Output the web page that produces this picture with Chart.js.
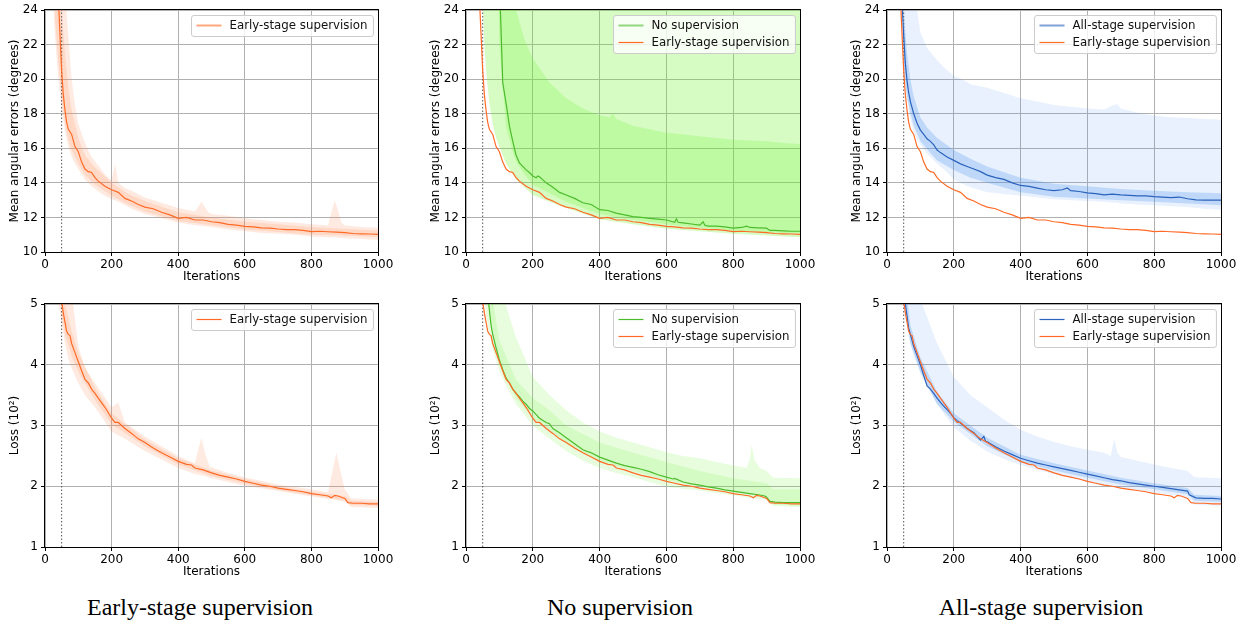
<!DOCTYPE html>
<html><head><meta charset="utf-8">
<script src="https://cdn.jsdelivr.net/npm/chart.js@4/dist/chart.umd.min.js"></script>
<style>
body{margin:0;background:#fff;width:1244px;height:626px;position:relative;overflow:hidden}
canvas{position:absolute}
.cap{position:absolute;top:595px;font-family:"Liberation Serif","Times New Roman",serif;font-size:24px;line-height:24px;color:#000;text-align:center;width:400px;white-space:nowrap}
</style></head><body>
<canvas id="c1" width="396" height="290" style="left:0px;top:0px"></canvas>
<canvas id="c2" width="397" height="290" style="left:421px;top:0px"></canvas>
<canvas id="c3" width="397" height="290" style="left:842px;top:0px"></canvas>
<canvas id="c4" width="396" height="295" style="left:0px;top:290px"></canvas>
<canvas id="c5" width="397" height="295" style="left:421px;top:290px"></canvas>
<canvas id="c6" width="397" height="295" style="left:842px;top:290px"></canvas>
<div class="cap" style="left:0px">Early-stage supervision</div>
<div class="cap" style="left:420px">No supervision</div>
<div class="cap" style="left:841px">All-stage supervision</div>
<script>
// ---------- labels / ticks ----------
const LABEL_ES = 'Early-stage supervision';
const LABEL_NS = 'No supervision';
const LABEL_AS = 'All-stage supervision';
const X_TICKS = [0, 200, 400, 600, 800, 1000];
const ANG_TICKS = [10, 12, 14, 16, 18, 20, 22, 24];
const LOSS_TICKS = [1, 2, 3, 4, 5];
const MARK_ITER = 50;

// ---------- mean angular error lines ----------
const ES_ANG_X = [40,45,50,55,60,65,70,80,90,100,110,120,130,140,150,160,180,200,220,240,260,280,300,325,350,375,400,425,450,475,500,525,550,575,600,625,650,675,700,725,750,775,800,825,850,875,900,925,950,975,1000];
const ES_ANG_Y = [24.8,22.6,20.5,19.1,18.2,17.5,17.1,16.8,16.1,15.8,15.2,14.8,14.65,14.6,14.3,14.1,13.8,13.6,13.45,13.1,12.95,12.75,12.6,12.5,12.3,12.15,11.95,12.0,11.85,11.85,11.75,11.7,11.6,11.55,11.48,11.45,11.4,11.38,11.33,11.3,11.3,11.25,11.18,11.2,11.17,11.15,11.12,11.07,11.05,11.04,11.02];

const NS_ANG_X = [100,103,110,120,130,140,150,160,170,180,190,200,210,215,220,240,260,280,300,325,350,375,400,425,450,475,500,525,550,575,600,625,630,635,650,675,700,710,715,725,750,775,800,825,840,850,875,900,910,925,950,975,1000];
const NS_ANG_Y = [25,24,19.8,18.6,17.3,16.4,15.6,15.15,14.95,14.75,14.6,14.4,14.3,14.4,14.35,14.0,13.75,13.45,13.3,13.1,12.85,12.75,12.45,12.4,12.25,12.15,12.05,12.0,11.95,11.9,11.85,11.72,11.92,11.72,11.68,11.62,11.55,11.75,11.55,11.5,11.5,11.45,11.38,11.42,11.5,11.42,11.4,11.38,11.25,11.25,11.22,11.2,11.2];

const AS_ANG_X = [45,50,55,60,65,70,80,90,100,110,120,130,140,150,160,180,200,220,240,260,280,300,325,350,375,400,425,450,475,500,525,540,550,575,600,625,650,675,700,725,750,775,800,825,850,875,900,925,950,975,1000];
const AS_ANG_Y = [24.5,22.5,20.9,19.9,19.2,18.7,18.0,17.45,17.05,16.8,16.55,16.4,16.2,15.9,15.75,15.5,15.3,15.1,14.95,14.8,14.65,14.45,14.3,14.2,14.0,13.85,13.8,13.7,13.6,13.55,13.6,13.7,13.55,13.5,13.42,13.38,13.3,13.35,13.3,13.28,13.25,13.25,13.2,13.18,13.15,13.18,13.08,13.02,13.0,13.0,13.0];

// ---------- loss lines ----------
const ES_LOSS_X = [40,45,50,55,60,65,70,75,80,90,100,110,120,130,140,150,160,180,200,210,220,240,260,280,300,325,350,375,400,425,440,450,475,500,525,550,575,600,625,650,675,700,725,750,775,800,825,850,860,870,880,900,910,925,950,975,1000];
const ES_LOSS_Y = [5.8,5.4,5.05,4.85,4.7,4.55,4.5,4.48,4.35,4.2,4.05,3.9,3.76,3.7,3.6,3.53,3.45,3.3,3.12,3.05,3.05,2.95,2.87,2.78,2.72,2.63,2.55,2.48,2.41,2.36,2.35,2.3,2.27,2.22,2.18,2.15,2.12,2.08,2.05,2.02,2.0,1.97,1.95,1.93,1.91,1.88,1.86,1.84,1.81,1.85,1.84,1.8,1.73,1.72,1.72,1.71,1.71];

const NS_LOSS_X = [60,68,75,80,90,100,110,120,130,140,150,160,170,180,190,200,210,220,240,250,260,280,300,325,350,375,400,425,450,475,500,525,550,575,600,620,625,650,675,700,725,750,775,800,825,850,875,895,900,910,925,950,975,1000];
const NS_LOSS_Y = [5.6,5.0,4.65,4.5,4.28,4.08,3.92,3.78,3.7,3.6,3.53,3.47,3.4,3.35,3.28,3.24,3.18,3.12,3.05,3.03,2.95,2.88,2.8,2.7,2.6,2.55,2.48,2.43,2.38,2.34,2.31,2.28,2.24,2.19,2.15,2.12,2.13,2.07,2.04,2.02,1.99,1.97,1.94,1.92,1.9,1.88,1.86,1.84,1.82,1.75,1.74,1.73,1.73,1.73];

const AS_LOSS_X = [45,55,60,65,70,80,90,100,110,120,130,140,150,160,170,180,190,200,210,220,240,260,280,290,295,300,325,350,375,400,425,450,475,500,525,550,575,600,625,650,675,700,725,750,775,800,825,850,875,900,905,925,950,975,1000];
const AS_LOSS_Y = [5.6,5.0,4.8,4.6,4.5,4.3,4.15,4.0,3.82,3.65,3.6,3.53,3.45,3.38,3.32,3.26,3.2,3.13,3.08,3.04,2.95,2.88,2.76,2.82,2.74,2.73,2.65,2.58,2.52,2.46,2.42,2.38,2.35,2.32,2.29,2.26,2.23,2.2,2.17,2.14,2.11,2.09,2.06,2.04,2.02,2.0,1.98,1.96,1.94,1.92,1.86,1.81,1.8,1.8,1.79];

// ---------- angular bands (outer = min/max, inner = spread) ----------
const ES_ANG_BX = [20,30,40,50,60,70,80,90,100,120,140,160,180,200,210,220,240,260,300,350,400,450,470,490,500,550,600,650,700,750,800,850,860,870,880,890,900,950,1000];
const ES_ANG_HI = [30,30,30,28,25,22.5,20,18.5,17.4,16.3,15.5,15.0,14.5,14.15,15.1,14.0,13.7,13.55,13.15,12.85,12.55,12.35,12.9,12.3,12.2,12.1,11.95,11.85,11.75,11.7,11.6,11.55,12.3,13.0,12.4,11.7,11.55,11.45,11.4];
const ES_ANG_LO = [26,22.5,20,18.3,17.0,16.1,15.5,15.1,14.8,14.2,13.8,13.5,13.25,13.05,13.0,12.9,12.7,12.5,12.2,11.95,11.7,11.55,11.5,11.47,11.45,11.3,11.2,11.1,11.05,11.0,10.9,10.85,10.85,10.85,10.83,10.82,10.8,10.75,10.7];
const ES_ANG_IX = [30,40,50,60,70,80,100,120,150,200,250,300,400,500,600,700,800,900,1000];
const ES_ANG_IHI = [28,27,24,21.5,19.5,18.2,16.6,15.6,14.9,14.0,13.35,12.95,12.3,12.0,11.75,11.6,11.45,11.35,11.25];
const ES_ANG_ILO = [23.5,21,18.9,17.5,16.5,15.9,15.1,14.45,13.9,13.25,12.75,12.35,11.8,11.55,11.3,11.15,11.0,10.95,10.85];

const NS_ANG_BX = [45,50,55,60,70,80,90,100,120,150,200,250,300,400,500,600,700,800,900,1000];
const NS_ANG_HI = [30,30,30,30,30,30,30,30,30,30,30,30,30,30,30,30,30,30,30,30];
const NS_ANG_LO = [30,24.5,22,20.5,18.6,17.4,16.6,16.1,15.1,14.2,13.3,12.9,12.55,11.9,11.6,11.35,11.2,11.05,10.95,10.85];
const NS_ANG_IX = [90,100,120,140,150,175,200,250,300,350,400,430,440,450,500,550,600,650,700,750,800,850,900,950,1000];
const NS_ANG_IHI = [30,30,28,25.5,24,22.3,21.2,19.8,18.9,18.3,17.9,17.8,18.05,17.7,17.3,17.1,16.9,16.8,16.7,16.6,16.5,16.45,16.4,16.3,16.25];
const NS_ANG_ILO = [30,22,17.2,15.8,15.2,14.5,13.9,13.4,12.9,12.55,12.2,12.1,12.05,12.0,11.85,11.75,11.6,11.5,11.42,11.35,11.25,11.2,11.15,11.1,11.08];

const AS_ANG_BX = [40,50,60,70,80,90,100,120,150,175,200,225,250,300,350,400,450,500,550,600,650,680,690,700,750,800,850,900,950,1000];
const AS_ANG_HI = [30,30,30,30,30,24,22.7,21.8,21.1,20.6,20.2,20.0,19.7,19.5,19.2,18.9,18.7,18.5,18.4,18.3,18.25,18.5,18.55,18.3,18.05,17.9,17.8,17.75,17.7,17.65];
const AS_ANG_LO = [24.5,20.5,18.8,17.7,17.0,16.5,16.2,15.7,15.1,14.7,14.2,13.95,13.75,13.45,13.35,13.25,13.15,13.05,13.0,12.95,12.9,12.85,12.85,12.8,12.75,12.7,12.65,12.6,12.5,12.45];
const AS_ANG_IX = [50,60,70,80,100,120,150,200,250,300,400,500,600,700,800,900,1000];
const AS_ANG_IHI = [24,21.5,20,19,17.8,17.2,16.6,15.9,15.4,14.95,14.3,13.95,13.8,13.65,13.55,13.45,13.4];
const AS_ANG_ILO = [20.8,19.0,18.0,17.3,16.4,15.95,15.3,14.75,14.3,14.0,13.45,13.2,13.1,13.0,12.9,12.8,12.7];

// ---------- loss bands ----------
const ES_LOSS_BX = [40,50,60,70,80,90,100,120,150,200,220,240,300,400,450,460,470,480,495,550,600,700,800,850,865,875,885,900,920,1000];
const ES_LOSS_HI = [7,6.5,6.0,5.6,5.2,4.75,4.3,3.95,3.7,3.3,3.38,3.05,2.82,2.5,2.38,2.6,2.8,2.55,2.32,2.22,2.15,2.03,1.95,1.9,2.3,2.55,2.3,1.95,1.8,1.78];
const ES_LOSS_LO = [5.0,4.7,4.35,4.1,3.95,3.82,3.7,3.5,3.3,2.9,2.84,2.78,2.58,2.3,2.2,2.19,2.18,2.17,2.14,2.07,2.01,1.92,1.83,1.79,1.78,1.77,1.76,1.74,1.66,1.64];
const ES_LOSS_IX = [50,60,80,100,150,200,300,400,500,600,700,800,900,920,1000];
const ES_LOSS_IHI = [5.4,5.0,4.55,4.2,3.62,3.2,2.77,2.46,2.26,2.12,2.0,1.91,1.84,1.76,1.74];
const ES_LOSS_ILO = [4.8,4.5,4.15,3.88,3.42,3.02,2.66,2.36,2.17,2.04,1.94,1.85,1.77,1.69,1.68];

const NS_LOSS_BX = [50,60,70,80,100,118,150,200,250,300,350,400,450,500,550,600,650,700,750,800,840,850,855,865,880,900,920,1000];
const NS_LOSS_HI = [7,7,7,7,5.8,5.0,4.45,3.8,3.5,3.25,3.05,2.9,2.8,2.72,2.64,2.56,2.5,2.46,2.4,2.34,2.3,2.45,2.68,2.42,2.3,2.25,2.14,2.13];
const NS_LOSS_LO = [5.5,4.8,4.5,4.25,3.9,3.68,3.35,3.0,2.78,2.58,2.42,2.3,2.22,2.15,2.07,1.99,1.96,1.93,1.89,1.85,1.82,1.81,1.81,1.8,1.79,1.78,1.68,1.66];
const NS_LOSS_IX = [70,100,150,200,250,300,400,500,600,700,800,900,920,1000];
const NS_LOSS_IHI = [5.4,4.4,3.75,3.45,3.25,3.0,2.72,2.55,2.4,2.25,2.13,2.05,1.95,1.95];
const NS_LOSS_ILO = [4.8,4.0,3.45,3.12,2.92,2.7,2.4,2.25,2.1,2.0,1.9,1.82,1.7,1.68];

const AS_LOSS_BX = [45,50,60,70,80,100,105,150,200,250,300,350,400,450,500,550,600,650,670,680,690,700,750,800,850,900,920,1000];
const AS_LOSS_HI = [7,7,7,7,7,5.3,5.0,4.35,3.8,3.5,3.3,3.1,2.93,2.82,2.73,2.66,2.6,2.55,2.5,2.78,2.55,2.48,2.42,2.36,2.3,2.25,2.15,2.13];
const AS_LOSS_LO = [5.3,5.0,4.6,4.35,4.15,3.85,3.8,3.35,2.97,2.75,2.57,2.45,2.35,2.27,2.2,2.14,2.08,2.03,2.01,2.0,1.99,1.98,1.94,1.9,1.86,1.82,1.7,1.68];
const AS_LOSS_IX = [50,70,100,150,200,300,400,500,600,700,800,900,920,1000];
const AS_LOSS_IHI = [5.6,4.65,4.12,3.55,3.2,2.8,2.52,2.38,2.26,2.14,2.05,1.97,1.86,1.84];
const AS_LOSS_ILO = [5.1,4.35,3.88,3.35,3.06,2.66,2.4,2.26,2.14,2.03,1.95,1.87,1.76,1.74];

// ---------- styles ----------
const ORANGE = '#ff6a26';
const GREEN = '#4cbc2c';
const BLUE = '#2a62bd';
const FILL = {
  orange:    ['rgba(255,140,90,0.18)', 'rgba(255,140,90,0.20)'],
  greenAng:  ['rgba(107,243,43,0.28)', 'rgba(107,243,43,0.22)'],
  greenLoss: ['rgba(107,243,43,0.16)', 'rgba(107,243,43,0.14)'],
  blue:      ['rgba(80,150,240,0.13)', 'rgba(80,150,240,0.27)']
};

Chart.defaults.font.family = "'DejaVu Sans', sans-serif";
Chart.defaults.font.size = 12;
Chart.defaults.color = '#000';

function pts(xs, ys) { return xs.map((x, i) => ({ x: x, y: ys[i] })); }
function lineDs(label, xs, ys, color, order) {
  return { label: label, data: pts(xs, ys), borderColor: color, borderWidth: 1.2, pointRadius: 0, fill: false, tension: 0, order: order };
}
function bandDs(xs, lo, hi, color, order) {
  return [
    { label: '', data: pts(xs, lo), borderColor: 'rgba(0,0,0,0)', borderWidth: 0, pointRadius: 0, fill: false, tension: 0, order: order },
    { label: '', data: pts(xs, hi), borderColor: 'rgba(0,0,0,0)', borderWidth: 0, pointRadius: 0, fill: '-1', backgroundColor: color, tension: 0, order: order }
  ];
}
function markDs(ticks) {
  return { label: '', data: [{ x: MARK_ITER, y: ticks[0] }, { x: MARK_ITER, y: ticks[ticks.length - 1] }],
    borderColor: '#555', borderWidth: 1, borderDash: [1.5, 2], pointRadius: 0, fill: false, order: 3 };
}

const mplDeco = {
  id: 'mplDeco',
  afterDatasetsDraw(chart, args, opts) {
    const ctx = chart.ctx, ca = chart.chartArea;
    ctx.save();
    ctx.strokeStyle = '#000'; ctx.lineWidth = 1;
    ctx.strokeRect(Math.round(ca.left) - 0.5, Math.round(ca.top) - 0.5, Math.round(ca.right - ca.left) + 1, Math.round(ca.bottom - ca.top) + 1);
    const items = opts.items || [];
    if (items.length) {
      ctx.font = "11.8px 'DejaVu Sans'";
      const tw = Math.max.apply(null, items.map(it => ctx.measureText(it.label).width));
      const w = 38 + tw + 6, h = 4 + 17 * items.length;
      const x = Math.round(ca.right - 5 - w) + 0.5, y = Math.round(ca.top + 5) + 0.5;
      const r = 2.5;
      ctx.beginPath();
      ctx.moveTo(x + r, y); ctx.lineTo(x + w - r, y); ctx.arcTo(x + w, y, x + w, y + r, r);
      ctx.lineTo(x + w, y + h - r); ctx.arcTo(x + w, y + h, x + w - r, y + h, r);
      ctx.lineTo(x + r, y + h); ctx.arcTo(x, y + h, x, y + h - r, r);
      ctx.lineTo(x, y + r); ctx.arcTo(x, y, x + r, y, r); ctx.closePath();
      ctx.fillStyle = 'rgba(255,255,255,0.8)'; ctx.fill();
      ctx.strokeStyle = '#cccccc'; ctx.lineWidth = 1; ctx.stroke();
      items.forEach((it, i) => {
        const cy = y + 10 + 17 * i;
        ctx.globalAlpha = it.alpha;
        ctx.strokeStyle = it.color; ctx.lineWidth = it.width;
        ctx.beginPath(); ctx.moveTo(x + 5, cy); ctx.lineTo(x + 30, cy); ctx.stroke();
        ctx.globalAlpha = 1;
        ctx.fillStyle = '#111'; ctx.textBaseline = 'middle'; ctx.textAlign = 'left';
        ctx.fillText(it.label, x + 38, cy + 0.5);
      });
    }
    ctx.restore();
  }
};

function makeChart(id, datasets, ticks, ytitle, padTop, legendItems) {
  return new Chart(document.getElementById(id), {
    type: 'line',
    data: { datasets: datasets },
    options: {
      responsive: false, animation: false, devicePixelRatio: 1,
      layout: { padding: { top: padTop, right: 18, left: 0, bottom: 0 } },
      plugins: { legend: { display: false }, tooltip: { enabled: false }, mplDeco: { items: legendItems } },
      scales: {
        x: {
          type: 'linear', min: X_TICKS[0], max: X_TICKS[X_TICKS.length - 1],
          ticks: { stepSize: X_TICKS[1] - X_TICKS[0], padding: 2, maxRotation: 0, autoSkip: false, callback: v => String(v) },
          grid: { color: '#b0b0b0', lineWidth: 1, tickLength: 4, tickColor: '#000' },
          border: { display: false },
          title: { display: true, text: 'Iterations', padding: { top: 0, bottom: 6 } },
          afterFit(s) { s.height = 38; s.paddingLeft = 0; s.paddingRight = 0; }
        },
        y: {
          type: 'linear', min: ticks[0], max: ticks[ticks.length - 1],
          ticks: { stepSize: ticks[1] - ticks[0], padding: 3, autoSkip: false, callback: v => String(v) },
          grid: { color: '#b0b0b0', lineWidth: 1, tickLength: 4, tickColor: '#000' },
          border: { display: false },
          title: { display: true, text: ytitle, padding: { top: 8, bottom: 0 } },
          afterFit(s) { s.width = 45; s.paddingTop = 0; s.paddingBottom = 0; }
        }
      }
    },
    plugins: [mplDeco]
  });
}

const ANG_TITLE = 'Mean angular errors (degrees)';
const LOSS_TITLE = 'Loss (10\u00B2)';

makeChart('c1', [
  lineDs(LABEL_ES, ES_ANG_X, ES_ANG_Y, ORANGE, 0),
  markDs(ANG_TICKS),
  ...bandDs(ES_ANG_BX, ES_ANG_LO, ES_ANG_HI, FILL.orange[0], 20),
  ...bandDs(ES_ANG_IX, ES_ANG_ILO, ES_ANG_IHI, FILL.orange[1], 15)
], ANG_TICKS, ANG_TITLE, 10, [{ label: LABEL_ES, color: ORANGE, width: 2, alpha: 0.6 }]);

makeChart('c2', [
  lineDs(LABEL_NS, NS_ANG_X, NS_ANG_Y, GREEN, 1),
  lineDs(LABEL_ES, ES_ANG_X, ES_ANG_Y, ORANGE, 0),
  markDs(ANG_TICKS),
  ...bandDs(NS_ANG_BX, NS_ANG_LO, NS_ANG_HI, FILL.greenAng[0], 20),
  ...bandDs(NS_ANG_IX, NS_ANG_ILO, NS_ANG_IHI, FILL.greenAng[1], 15)
], ANG_TICKS, ANG_TITLE, 10, [{ label: LABEL_NS, color: GREEN, width: 2, alpha: 0.6 }, { label: LABEL_ES, color: ORANGE, width: 1.2, alpha: 1 }]);

makeChart('c3', [
  lineDs(LABEL_AS, AS_ANG_X, AS_ANG_Y, BLUE, 1),
  lineDs(LABEL_ES, ES_ANG_X, ES_ANG_Y, ORANGE, 0),
  markDs(ANG_TICKS),
  ...bandDs(AS_ANG_BX, AS_ANG_LO, AS_ANG_HI, FILL.blue[0], 20),
  ...bandDs(AS_ANG_IX, AS_ANG_ILO, AS_ANG_IHI, FILL.blue[1], 15)
], ANG_TICKS, ANG_TITLE, 10, [{ label: LABEL_AS, color: BLUE, width: 2, alpha: 0.6 }, { label: LABEL_ES, color: ORANGE, width: 1.2, alpha: 1 }]);

makeChart('c4', [
  lineDs(LABEL_ES, ES_LOSS_X, ES_LOSS_Y, ORANGE, 0),
  markDs(LOSS_TICKS),
  ...bandDs(ES_LOSS_BX, ES_LOSS_LO, ES_LOSS_HI, FILL.orange[0], 20),
  ...bandDs(ES_LOSS_IX, ES_LOSS_ILO, ES_LOSS_IHI, FILL.orange[1], 15)
], LOSS_TICKS, LOSS_TITLE, 14, [{ label: LABEL_ES, color: ORANGE, width: 1.2, alpha: 1 }]);

makeChart('c5', [
  lineDs(LABEL_NS, NS_LOSS_X, NS_LOSS_Y, GREEN, 1),
  lineDs(LABEL_ES, ES_LOSS_X, ES_LOSS_Y, ORANGE, 0),
  markDs(LOSS_TICKS),
  ...bandDs(NS_LOSS_BX, NS_LOSS_LO, NS_LOSS_HI, FILL.greenLoss[0], 20),
  ...bandDs(NS_LOSS_IX, NS_LOSS_ILO, NS_LOSS_IHI, FILL.greenLoss[1], 15)
], LOSS_TICKS, LOSS_TITLE, 14, [{ label: LABEL_NS, color: GREEN, width: 1.2, alpha: 1 }, { label: LABEL_ES, color: ORANGE, width: 1.2, alpha: 1 }]);

makeChart('c6', [
  lineDs(LABEL_AS, AS_LOSS_X, AS_LOSS_Y, BLUE, 1),
  lineDs(LABEL_ES, ES_LOSS_X, ES_LOSS_Y, ORANGE, 0),
  markDs(LOSS_TICKS),
  ...bandDs(AS_LOSS_BX, AS_LOSS_LO, AS_LOSS_HI, FILL.blue[0], 20),
  ...bandDs(AS_LOSS_IX, AS_LOSS_ILO, AS_LOSS_IHI, FILL.blue[1], 15)
], LOSS_TICKS, LOSS_TITLE, 14, [{ label: LABEL_AS, color: BLUE, width: 1.2, alpha: 1 }, { label: LABEL_ES, color: ORANGE, width: 1.2, alpha: 1 }]);
</script>
</body></html>
